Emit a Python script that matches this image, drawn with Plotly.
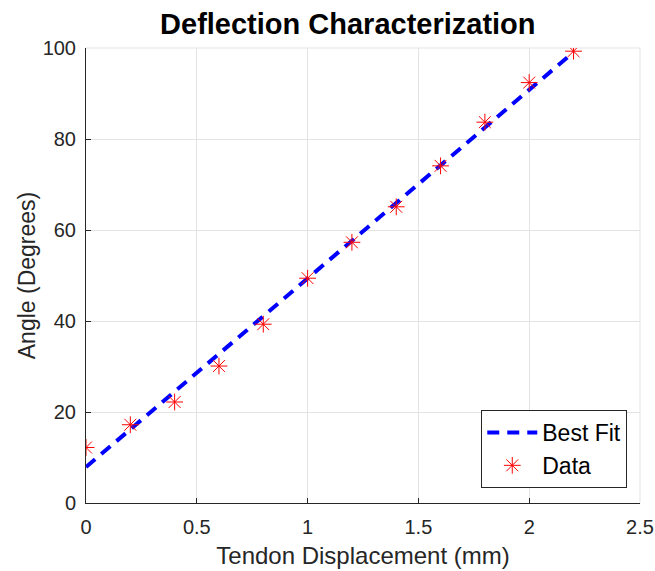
import plotly.graph_objects as go

disp = [0, 0.2, 0.4, 0.6, 0.8, 1.0, 1.2, 1.4, 1.6, 1.8, 2.0, 2.2]
angle = [12.2, 17.2, 22.2, 30.1, 39.3, 49.4, 57.3, 65.1, 74.1, 83.7, 92.4, 99.3]
fit_x = [0, 2.2]
fit_y = [7.9, 99.1]
x_ticks = [0, 0.5, 1, 1.5, 2, 2.5]
x_tick_text = ["0", "0.5", "1", "1.5", "2", "2.5"]
y_ticks = [0, 20, 40, 60, 80, 100]

font = "Liberation Sans, Arial, sans-serif"

fig = go.Figure()
fig.add_trace(go.Scatter(x=fit_x, y=fit_y, mode="lines", name="Best Fit",
                         line=dict(color="#0000ff", width=4, dash="12px,8px")))
fig.add_trace(go.Scatter(x=disp, y=angle, mode="markers", name="Data",
                         marker=dict(symbol="asterisk-open", size=14, color="#ff0000",
                                     line=dict(color="#ff2020", width=1))))

fig.update_layout(
    width=655, height=571,
    margin=dict(l=86, r=15, t=48, b=68),
    paper_bgcolor="white", plot_bgcolor="white",
    font=dict(family=font, color="#262626"),
    title=dict(text="<b>Deflection Characterization</b>", x=0.531, xanchor="center",
               y=0.958, yanchor="middle", font=dict(size=29, color="black", family=font)),
    xaxis=dict(range=[0, 2.5], tickvals=x_ticks, ticktext=x_tick_text,
               showgrid=True, gridcolor="#e3e3e3", gridwidth=1,
               showline=True, linecolor="#262626", linewidth=1, mirror=False,
               ticks="inside", ticklen=5, tickcolor="#262626", automargin=False,
               ticklabelstandoff=6,
               tickfont=dict(size=20), zeroline=False,
               title=dict(text="Tendon Displacement (mm)", font=dict(size=24), standoff=10)),
    yaxis=dict(range=[0, 100], tickvals=y_ticks,
               showgrid=True, gridcolor="#e3e3e3", gridwidth=1,
               showline=True, linecolor="#262626", linewidth=1, automargin=False,
               ticks="inside", ticklen=5, tickcolor="#262626",
               ticklabelstandoff=5,
               tickfont=dict(size=20), zeroline=False,
               title=dict(text="Angle (Degrees)", font=dict(size=23), standoff=0)),
    legend=dict(x=0.977, y=0.033, xanchor="right", yanchor="bottom",
                bgcolor="white", bordercolor="#262626", borderwidth=1,
                itemwidth=50,
                font=dict(size=23, color="black"), tracegroupgap=0),
    showlegend=True,
)
fig.add_shape(type="line", xref="paper", yref="paper", x0=1, x1=1, y0=0, y1=1,
              line=dict(color="#e3e3e3", width=1), layer="below")
fig.add_shape(type="line", xref="paper", yref="paper", x0=0, x1=1, y0=1, y1=1,
              line=dict(color="#e3e3e3", width=1), layer="below")

fig.write_html("out.html")
